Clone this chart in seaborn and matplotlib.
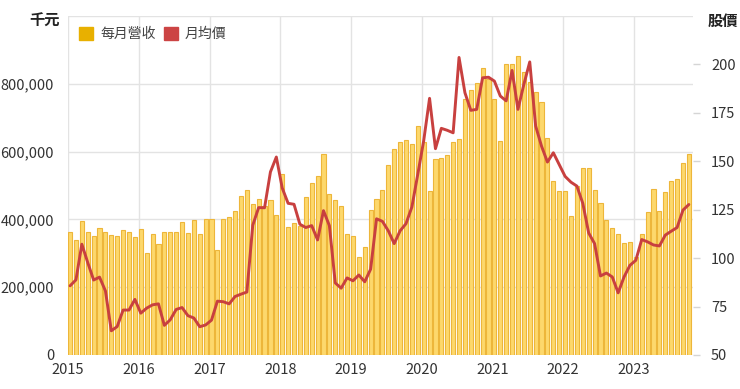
import matplotlib
matplotlib.use("Agg")
import matplotlib.pyplot as plt
from matplotlib.patches import Patch
import numpy as np
import seaborn as sns

# 每月營收 (千元), 2015-01 .. 2023-10
revenue = [
    362, 339, 394, 362, 351, 375, 364, 354, 351, 370, 362, 349,
    373, 301, 358, 327, 363, 364, 362, 393, 361, 397, 356, 400,
    400, 309, 400, 408, 424, 469, 488, 444, 461, 440, 458, 413,
    535, 377, 388, 381, 465, 507, 529, 593, 475, 456, 439, 356,
    351, 288, 320, 427, 460, 487, 561, 608, 629, 635, 623, 676,
    627, 485, 578, 580, 589, 629, 638, 755, 783, 801, 848, 815,
    754, 631, 857, 857, 881, 835, 806, 777, 745, 640, 514, 485,
    485, 410, 500, 553, 553, 486, 449, 399, 375, 357, 330, 333,
    290, 356, 422, 490, 426, 481, 514, 518, 565, 593,
]
revenue = [v * 1000 for v in revenue]

# 月均價
price = [
    85.7, 88.8, 107.2, 97.7, 88.7, 90.2, 83.1, 62.5, 64.7, 73.2, 73.2, 78.7,
    71.6, 74.2, 75.9, 76.4, 65.3, 68.2, 73.5, 74.5, 70.3, 69.1, 64.6, 65.5,
    68.0, 77.8, 77.5, 76.4, 80.2, 81.4, 82.5, 117.0, 126.1, 126.0, 144.5, 152.2,
    136.2, 128.3, 127.8, 117.5, 115.8, 116.8, 109.4, 124.5, 116.8, 87.2, 84.5, 89.8,
    88.3, 91.3, 87.8, 94.3, 120.3, 119.0, 114.1, 107.5, 114.1, 117.8, 126.4, 143.3,
    160.5, 182.5, 156.5, 167.0, 166.0, 164.7, 203.6, 185.4, 176.3, 176.8, 193.1, 193.4,
    191.4, 183.7, 181.2, 196.9, 176.8, 189.7, 201.3, 168.2, 157.8, 149.6, 154.4, 148.3,
    142.2, 139.2, 137.2, 128.3, 113.0, 107.5, 90.8, 92.3, 90.3, 82.1, 90.3, 96.3,
    98.9, 109.6, 108.4, 106.8, 106.3, 111.9, 113.9, 115.8, 124.8, 127.7,
]

years = ["2015", "2016", "2017", "2018", "2019", "2020", "2021", "2022", "2023"]

months = np.arange(len(revenue))

sns.set_theme(style="white")
plt.rcParams["font.family"] = ["Noto Sans CJK TC", "DejaVu Sans"]

fig = plt.figure(figsize=(7.4, 3.89), dpi=100)
ax = fig.add_axes([68 / 740, 34 / 389, 625 / 740, 339 / 389])

sns.barplot(x=months, y=revenue, native_scale=True, width=0.7,
            color="#FDD86C", edgecolor="#EDB63A", linewidth=0.8,
            saturation=1, ax=ax)

ax.set_ylim(0, 1_000_000)
ax.set_xlim(-0.35, 105.7)
ax.set_yticks([0, 200_000, 400_000, 600_000, 800_000, 1_000_000])
ax.set_yticklabels(["0", "200,000", "400,000", "600,000", "800,000", ""])
ax.set_xticks([12 * k - 0.33 for k in range(len(years))])
ax.set_xticklabels(years)
ax.grid(True, color="#E3E3E3", linewidth=1)
ax.set_axisbelow(True)
for s in ax.spines.values():
    s.set_visible(False)
ax.tick_params(axis="both", length=0, labelsize=10.5, colors="#333333")
ax.tick_params(axis="y", pad=10)
ax.tick_params(axis="x", pad=6)
ax.set_xlabel("")
ax.set_ylabel("")

ax2 = ax.twinx()
sns.lineplot(x=months, y=price, color="#C8403F", linewidth=2.1, ax=ax2)
ax2.set_ylim(50, 225)
ax2.set_yticks([50, 75, 100, 125, 150, 175, 200])
ax2.set_xlim(-0.35, 105.7)
for s in ax2.spines.values():
    s.set_visible(False)
ax2.tick_params(axis="y", length=5, width=1, color="#D5D5D5", labelsize=10.5,
                labelcolor="#333333", pad=8)
ax2.set_ylabel("")
ax2.grid(False)

handles = [Patch(color="#E8B000", label="每月營收"),
           Patch(color="#CC4444", label="月均價")]
ax.legend(handles=handles, loc="upper left", bbox_to_anchor=(0.0, 1.0),
          ncol=2, frameon=False, handlelength=1.0, handleheight=1.0,
          handletextpad=0.5, columnspacing=0.6, fontsize=10,
          labelcolor="#444444", borderaxespad=0.4)

fig.text(45 / 740, 1 - 21 / 389, "千元", ha="center", va="center",
         fontsize=11, color="#222222", fontweight="bold")
fig.text(723 / 740, 1 - 21 / 389, "股價", ha="center", va="center",
         fontsize=11, color="#222222", fontweight="bold")

fig.savefig("out.png", dpi=100)
